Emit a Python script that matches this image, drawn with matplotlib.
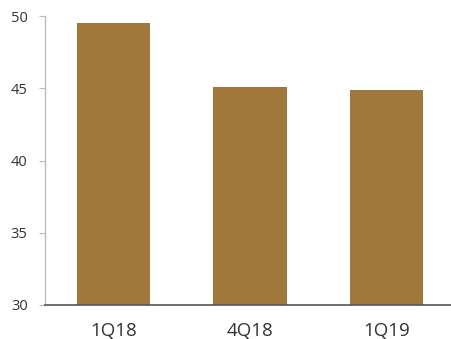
import matplotlib
matplotlib.use("Agg")
import matplotlib.pyplot as plt

categories = ["1Q18", "4Q18", "1Q19"]
values = [49.5, 45.1, 44.9]
yticks = [30, 35, 40, 45, 50]

plt.rcParams['font.family'] = ['Open Sans', 'DejaVu Sans']

fig = plt.figure(figsize=(4.52, 3.39), dpi=100)
ax = fig.add_axes([45/452, 1 - 305/339, 1 - 45/452, (305 - 16)/339])

x = list(range(len(categories)))
ax.bar(x, values, width=0.535, color="#A0783C", bottom=0)
ax.set_ylim(30, 50)
ax.set_xlim(-0.502, 2.48)
ax.set_yticks(yticks)
ax.set_yticklabels([str(t) for t in yticks], fontsize=10.5, color="#333333")
ax.set_xticks(x)
ax.set_xticklabels(categories, fontsize=13.5, color="#333333")

for s in ["top", "right"]:
    ax.spines[s].set_visible(False)
ax.spines["left"].set_color("#BBBBBB")
ax.spines["left"].set_linewidth(1.0)
ax.spines["bottom"].set_color("#555555")
ax.spines["bottom"].set_linewidth(1.2)
ax.tick_params(axis="y", length=4, color="#BBBBBB", pad=8.5)
ax.tick_params(axis="x", length=0, pad=12.5)

fig.savefig("out.png", dpi=100)
